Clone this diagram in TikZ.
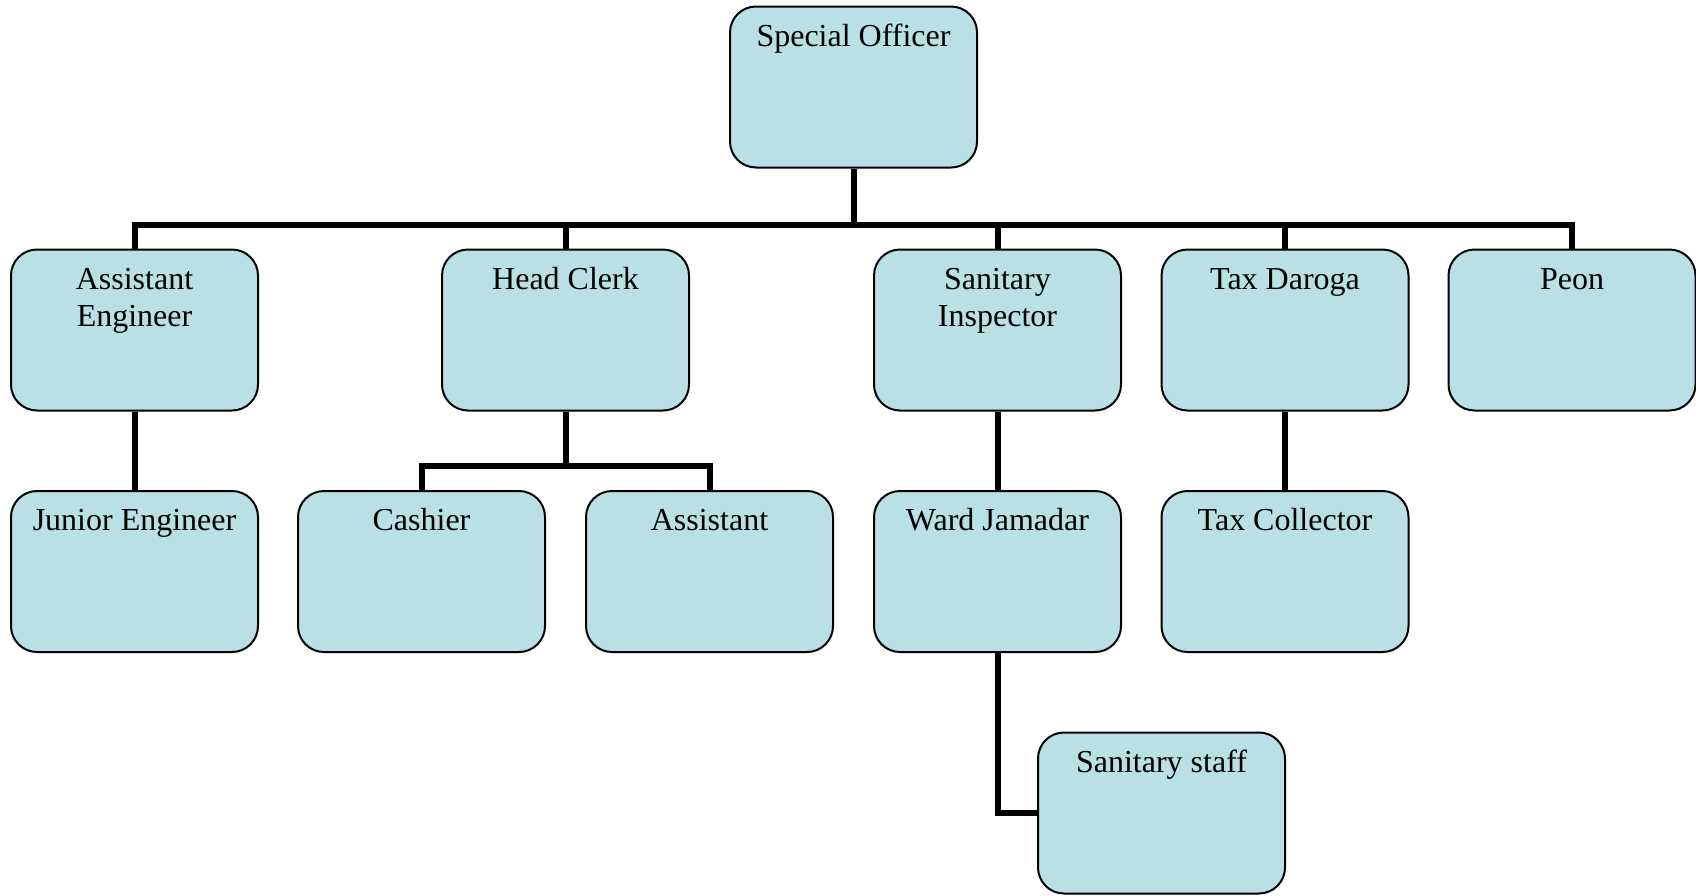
\documentclass[tikz,border=0pt]{standalone}
\usepackage{fontspec}
\newfontfamily\orgfont{Liberation Serif}
\definecolor{boxfill}{RGB}{185,224,228}
% a centred stack of lines whose baseline is that of its first line
\newcommand\toplines[1]{\begin{tabular}[t]{@{}c@{}}#1\end{tabular}}
\begin{document}
\begin{tikzpicture}[x=0.5pt, y=-0.5pt,
  unit/.style={draw=black, line width=1pt, fill=boxfill, rounded corners=13pt,
    minimum width=123.5pt, minimum height=80.5pt, inner sep=0pt},
  title/.style={label={[anchor=base, yshift=-20.3pt, inner sep=0pt,
    font={\orgfont\fontsize{16}{18.75}\selectfont}]north:{\toplines{#1}}}},
  conn/.style={line width=3pt, draw=black}
]
\useasboundingbox (0,0) rectangle (1696,895);

% top of the hierarchy
\node[unit, title={Special Officer}] (so) at (853.5,87) {};

% first level
\node[unit, title={Assistant\\Engineer}] (ae) at (134.5,330) {};
\node[unit, title={Head Clerk}] (hc) at (565.5,330) {};
\node[unit, title={Sanitary\\Inspector}] (si) at (997.5,330) {};
\node[unit, title={Tax Daroga}] (td) at (1285,330) {};
\node[unit, title={Peon}] (peon) at (1572,330) {};

% second level
\node[unit, title={Junior Engineer}] (je) at (134.5,571.5) {};
\node[unit, title={Cashier}] (cash) at (421.5,571.5) {};
\node[unit, title={Assistant}] (asst) at (709.5,571.5) {};
\node[unit, title={Ward Jamadar}] (wj) at (997.5,571.5) {};
\node[unit, title={Tax Collector}] (tc) at (1285,571.5) {};

% third level
\node[unit, title={Sanitary staff}] (ss) at (1161.5,813) {};

% junction points of the buses
\coordinate (bus) at (853.5,225);
\coordinate (hcbus) at (565.5,466);

% connectors
\draw[conn] (so.south) -- (bus);
\draw[conn] (ae.north) |- (bus) -| (peon.north);
\draw[conn] (hc.north) -- (hc.north |- bus);
\draw[conn] (si.north) -- (si.north |- bus);
\draw[conn] (td.north) -- (td.north |- bus);

\draw[conn] (ae.south) -- (je.north);
\draw[conn] (hc.south) -- (hcbus);
\draw[conn] (cash.north) |- (hcbus) -| (asst.north);
\draw[conn] (si.south) -- (wj.north);
\draw[conn] (td.south) -- (tc.north);
\draw[conn] (wj.south) |- (ss.west);
\end{tikzpicture}
\end{document}
